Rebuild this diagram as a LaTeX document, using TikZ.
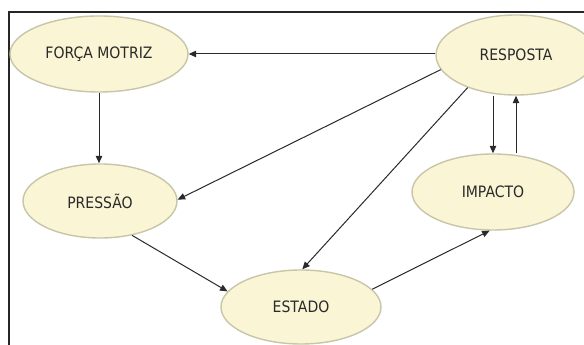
\documentclass[tikz,border=0pt]{standalone}
\usepackage{fontspec}
\setmainfont{DejaVu Sans}
\usetikzlibrary{shapes.geometric,arrows.meta}
\definecolor{nodefill}{HTML}{F9F5D5}
\definecolor{nodeline}{HTML}{C9C5A8}
\definecolor{ink}{HTML}{2A2A2A}
\tikzset{
  stage/.style={ellipse, draw=nodeline, line width=1.4pt, fill=nodefill,
    inner sep=0pt, text=ink,
    font=\fontsize{14}{16}\selectfont},
  link/.style={draw=ink, line width=1pt, -{Triangle[length=7.5pt,width=6.5pt]}},
}
\newcommand{\tallcaps}[1]{\scalebox{1}[1.12]{#1}}
\begin{document}
\begin{tikzpicture}[x=1pt,y=1pt]
  \useasboundingbox (0,0) rectangle (584,345);
  \fill[white] (0,0) rectangle (584,345);
  % frame: left and top edges only
  \draw[line width=2pt, black!85] (8.5,0) |- (584,333);

  \node[stage, minimum width=178pt, minimum height=76pt] (forca)  at (99,291) {\tallcaps{FORÇA MOTRIZ}};
  \node[stage, minimum width=160pt, minimum height=80pt] (resp)   at (516,290) {\tallcaps{RESPOSTA}};
  \node[stage, minimum width=154pt, minimum height=74pt] (pres)   at (100,144) {\tallcaps{PRESSÃO}};
  \node[stage, minimum width=162pt, minimum height=76pt] (imp)    at (493,153) {\tallcaps{IMPACTO}};
  \node[stage, minimum width=160pt, minimum height=74pt] (estado) at (301,38)  {\tallcaps{ESTADO}};

  \draw[link] (resp.west |- forca.east) -- (forca.east);
  \draw[link] (forca.south) -- (forca.south |- pres.north);
  \draw[link] (resp.191.5) -- (pres.1);
  \draw[link] (resp.214) -- (estado.88);
  \draw[link] (resp.south -| imp.north) -- (imp.north);
  \draw[link] (imp.north -| resp.south) -- (resp.south);
  \draw[link] (pres.-47.6) -- (estado.168.4);
  \draw[link] (estado.14.8) -- (imp.265);
\end{tikzpicture}
\end{document}
